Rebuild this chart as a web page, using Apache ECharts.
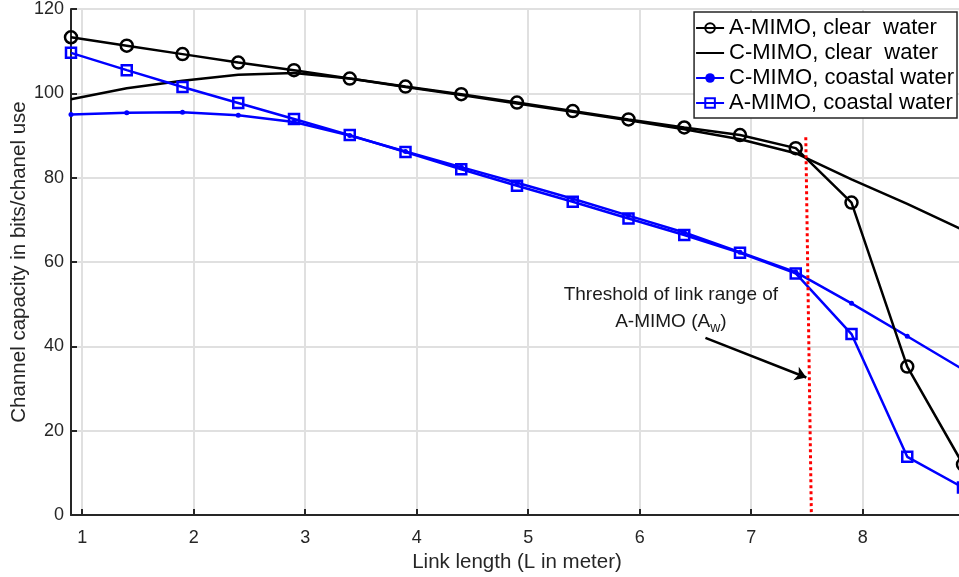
<!DOCTYPE html>
<html>
<head>
<meta charset="utf-8">
<script src="https://cdn.jsdelivr.net/npm/echarts@6/dist/echarts.min.js"></script>
<style>
  html, body { margin: 0; padding: 0; background: #fff; }
  #chart { width: 959px; height: 577px; }
</style>
</head>
<body>
<div id="chart"></div>
<script>
// Link lengths (m) at which capacity was evaluated
const linkLength = [0.9, 1.4, 1.9, 2.4, 2.9, 3.4, 3.9, 4.4, 4.9, 5.4, 5.9, 6.4, 6.9, 7.4, 7.9, 8.4, 8.9];

// Channel capacity (bits/channel use)
const aMimoClear   = [113.3, 111.3, 109.3, 107.3, 105.5, 103.5, 101.6, 99.8, 97.8, 95.8, 93.8, 91.9, 90.1, 87.0, 74.1, 35.2, 12.0];
const cMimoClear   = [98.6, 101.2, 103.0, 104.4, 104.8, 103.5, 101.5, 99.6, 97.6, 95.6, 93.6, 91.5, 89.1, 85.8, 79.6, 73.8, 67.6];
const cMimoCoastal = [95.0, 95.4, 95.5, 94.8, 93.2, 90.0, 86.2, 82.5, 78.8, 75.0, 71.0, 67.0, 62.3, 57.6, 50.2, 42.4, 34.5];
const aMimoCoastal = [109.6, 105.5, 101.5, 97.7, 93.9, 90.1, 86.1, 82.0, 78.1, 74.3, 70.3, 66.4, 62.2, 57.3, 42.9, 13.8, 6.5];

// Axis ticks
const xTicks = [1, 2, 3, 4, 5, 6, 7, 8];

// Threshold marker and its annotation
const thresholdLine = [[7.49, 89.6], [7.54, 0]];
const arrowFrom = [6.59, 42.0];
const arrowTo = [7.495, 32.6];
const notePos = [6.28, 49.0];

const FONT = 'Liberation Sans, Arial, Helvetica, sans-serif';
const AXIS_COLOR = '#262626';
const LW = 2.5;

const pair = ys => linkLength.map((x, i) => [x, ys[i]]);

const chart = echarts.init(document.getElementById('chart'));
chart.setOption({
  animation: false,
  backgroundColor: '#fff',
  textStyle: { fontFamily: FONT },
  grid: { left: 71, right: -4, top: 9, bottom: 62, outerBoundsMode: 'none', containLabel: false },
  legend: {
    orient: 'vertical',
    right: 2,
    top: 12,
    itemWidth: 28,
    itemHeight: 12,
    itemGap: 3,
    padding: [5, 3, 4, 1],
    borderColor: AXIS_COLOR,
    borderWidth: 1.5,
    backgroundColor: '#fff',
    textStyle: { fontFamily: FONT, fontSize: 22, color: '#000' },
    data: [
      'A-MIMO, clear  water',
      { name: 'C-MIMO, clear  water', itemStyle: { color: 'transparent', borderWidth: 0 } },
      'C-MIMO, coastal water',
      'A-MIMO, coastal water'
    ]
  },
  xAxis: {
    type: 'value',
    min: 0.9,
    max: 8.9,
    name: 'Link length (L in meter)',
    nameLocation: 'middle',
    nameGap: 36,
    nameTextStyle: { fontFamily: FONT, fontSize: 20.5, color: AXIS_COLOR },
    axisLine: { lineStyle: { color: AXIS_COLOR, width: 2 } },
    axisTick: { inside: true, length: 6, customValues: xTicks, lineStyle: { color: AXIS_COLOR, width: 2 } },
    axisLabel: { customValues: xTicks, margin: 14, fontFamily: FONT, fontSize: 18, color: AXIS_COLOR },
    splitLine: { show: true, lineStyle: { color: '#e0e0e0', width: 2 } }
  },
  yAxis: {
    type: 'value',
    min: 0,
    max: 120,
    interval: 20,
    name: 'Channel capacity in bits/chanel use',
    nameLocation: 'middle',
    nameGap: 41,
    nameMoveOverlap: false,
    nameTextStyle: { fontFamily: FONT, fontSize: 20.5, color: AXIS_COLOR },
    axisLine: { show: true, lineStyle: { color: AXIS_COLOR, width: 2 } },
    axisTick: { show: true, inside: true, length: 6, lineStyle: { color: AXIS_COLOR, width: 2 } },
    axisLabel: { margin: 7, fontFamily: FONT, fontSize: 18, color: AXIS_COLOR },
    splitLine: { show: true, lineStyle: { color: '#e0e0e0', width: 2 } }
  },
  series: [
    {
      name: 'A-MIMO, clear  water',
      type: 'line',
      data: pair(aMimoClear),
      symbol: 'circle',
      symbolSize: 12,
      itemStyle: { color: 'none', borderColor: '#000', borderWidth: LW },
      lineStyle: { color: '#000', width: LW },
      z: 4
    },
    {
      name: 'C-MIMO, clear  water',
      type: 'line',
      data: pair(cMimoClear),
      symbol: 'none',
      itemStyle: { color: '#000' },
      lineStyle: { color: '#000', width: LW },
      z: 3
    },
    {
      name: 'C-MIMO, coastal water',
      type: 'line',
      data: pair(cMimoCoastal),
      symbol: 'circle',
      symbolSize: 5,
      itemStyle: { color: '#0000ff', borderColor: '#0000ff', borderWidth: 0 },
      lineStyle: { color: '#0000ff', width: LW },
      z: 3
    },
    {
      name: 'A-MIMO, coastal water',
      type: 'line',
      data: pair(aMimoCoastal),
      symbol: 'rect',
      symbolSize: 10,
      itemStyle: { color: 'none', borderColor: '#0000ff', borderWidth: LW },
      lineStyle: { color: '#0000ff', width: LW },
      z: 3
    },
    {
      // threshold line, arrow and note
      name: 'threshold',
      type: 'line',
      data: thresholdLine,
      symbol: 'none',
      lineStyle: { color: '#ff0000', width: 3, type: [3, 3] },
      z: 5,
      markLine: {
        silent: true,
        symbol: ['none', 'arrow'],
        symbolSize: 11,
        label: { show: false },
        lineStyle: { color: '#000', width: LW, type: 'solid' },
        data: [[{ coord: arrowFrom }, { coord: arrowTo }]]
      },
      markPoint: {
        silent: true,
        symbol: 'circle',
        symbolSize: 0,
        data: [{ coord: notePos }],
        label: {
          show: true,
          position: 'inside',
          align: 'center',
          formatter: 'Threshold of link range of\nA-MIMO (A{sub|w})',
          fontFamily: FONT,
          fontSize: 19,
          lineHeight: 27,
          color: '#1a1a1a',
          rich: {
            sub: { fontFamily: FONT, fontSize: 14, color: '#1a1a1a', verticalAlign: 'bottom', padding: [10, 0, 0, 0] }
          }
        }
      }
    }
  ]
});
</script>
</body>
</html>
